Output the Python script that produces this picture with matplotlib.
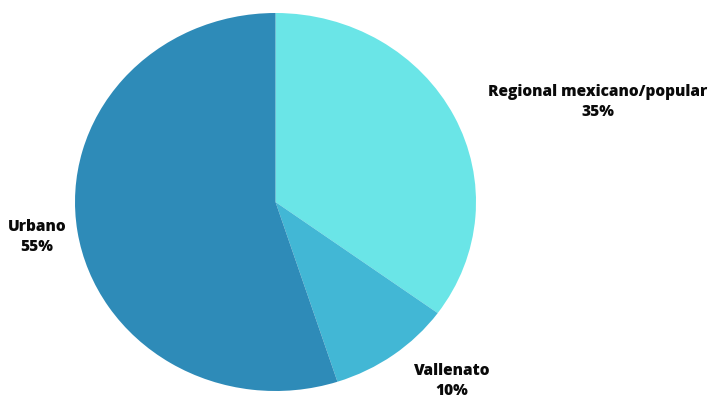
import matplotlib
matplotlib.use("Agg")
import matplotlib.pyplot as plt

generos = ["Regional mexicano/popular", "Vallenato", "Urbano"]
porcentajes = [35, 10, 55]
colores = ["#6ae5e7", "#42b7d5", "#2e8bb8"]

# label anchor points in figure pixels (x, y from top)
posiciones = [(598, 102), (452, 381), (37, 237)]

W, H = 713, 398
fig = plt.figure(figsize=(W / 100, H / 100), dpi=100)

# pie occupies x 75..476, y 13..391 (slightly wider than tall)
left, right, top, bottom = 75, 476, 13, 391
ax = fig.add_axes([left / W, (H - bottom) / H, (right - left) / W, (bottom - top) / H])
ax.pie(porcentajes, colors=colores, startangle=90, counterclock=False,
       wedgeprops=dict(linewidth=0))
ax.set_xlim(-1, 1)
ax.set_ylim(-1, 1)
ax.set_aspect("auto")
ax.axis("off")

for nombre, pct, (px, py) in zip(generos, porcentajes, posiciones):
    fig.text(px / W, 1 - py / H, f"{nombre}\n{pct}%", ha="center", va="center",
             fontsize=11.2, fontweight=800, family=["Open Sans", "DejaVu Sans"],
             color="#0a0a0a", linespacing=1.3)

fig.savefig("out.png", dpi=100)
